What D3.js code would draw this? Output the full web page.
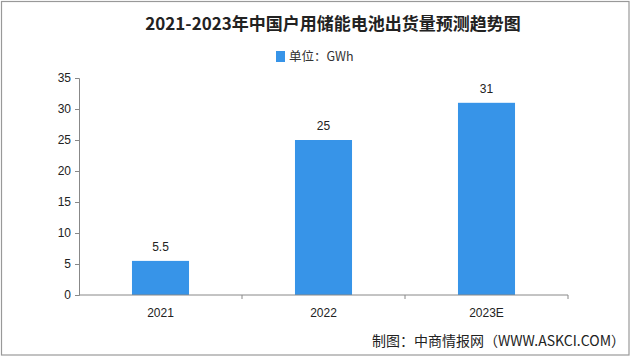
<!DOCTYPE html>
<html><head><meta charset="utf-8">
<script src="https://cdn.jsdelivr.net/npm/d3@7"></script>
<style>html,body{margin:0;padding:0;background:#fff;}svg{display:block;}</style>
</head><body>
<svg id="c" width="640" height="358"></svg>
<script>
const categories = ["2021", "2022", "2023E"];
const values = [5.5, 25, 31];
const valueLabels = ["5.5", "25", "31"];
const yTicks = [0, 5, 10, 15, 20, 25, 30, 35];
const titleText = "2021-2023年中国户用储能电池出货量预测趋势图";
const legendText = "单位：GWh";
const sourceText = "制图：中商情报网（WWW.ASKCI.COM）";

const svg = d3.select("#c");
const font = "'Noto Sans CJK SC', 'Noto Sans', sans-serif";
const barColor = "#3794e8";
const axisColor = "#888";

svg.append("rect").attr("x", 1.5).attr("y", 1.5).attr("width", 627.5).attr("height", 353.5)
  .attr("fill", "#fff").attr("stroke", "#999").attr("stroke-width", 1.2);

const m = {left: 79, right: 568, top: 78, bottom: 295};
const x = d3.scaleBand().domain(categories).range([m.left, m.right]).paddingInner(0.65).paddingOuter(0.325);
const y = d3.scaleLinear().domain([0, 35]).range([m.bottom, m.top]);

// title
svg.append("text").attr("x", 333).attr("y", 30).attr("text-anchor", "middle")
  .attr("font-family", font).attr("font-weight", "bold").attr("font-size", 17).attr("fill", "#222")
  .text(titleText);

// legend
svg.append("rect").attr("x", 276).attr("y", 51).attr("width", 9).attr("height", 11).attr("fill", barColor);
svg.append("text").attr("x", 289).attr("y", 61).attr("font-family", font).attr("font-size", 12.5).attr("fill", "#333")
  .text(legendText);

// y axis
const yAxis = svg.append("g").attr("transform", `translate(${m.left},0)`)
  .call(d3.axisLeft(y).tickValues(yTicks).tickSize(4).tickPadding(4).tickFormat(d3.format("d")));
yAxis.select(".domain").attr("stroke", axisColor);
yAxis.selectAll(".tick line").attr("stroke", axisColor);
yAxis.selectAll("text").attr("font-family", "'Liberation Sans', Arial, sans-serif").attr("font-size", 12).attr("fill", "#222");

// bars
svg.append("g").selectAll("rect").data(values).join("rect")
  .attr("x", (d, i) => x(categories[i])).attr("width", x.bandwidth())
  .attr("y", d => y(d)).attr("height", d => y(0) - y(d)).attr("fill", barColor);

// value labels
svg.append("g").selectAll("text").data(values).join("text")
  .attr("x", (d, i) => x(categories[i]) + x.bandwidth() / 2)
  .attr("y", d => y(d) - 10).attr("text-anchor", "middle")
  .attr("font-family", "'Liberation Sans', Arial, sans-serif").attr("font-size", 12).attr("fill", "#222")
  .text((d, i) => valueLabels[i]);

// x axis
const xg = svg.append("g").attr("transform", `translate(0,${m.bottom})`);
xg.append("line").attr("x1", m.left).attr("x2", m.right).attr("stroke", axisColor);
const bounds = d3.range(categories.length + 1).map(i => m.left + i * (m.right - m.left) / categories.length);
xg.selectAll("line.t").data(bounds.slice(1)).join("line").attr("class", "t")
  .attr("x1", d => d).attr("x2", d => d).attr("y1", 0).attr("y2", 4).attr("stroke", axisColor);
xg.selectAll("text").data(categories).join("text")
  .attr("x", d => x(d) + x.bandwidth() / 2).attr("y", 22).attr("text-anchor", "middle")
  .attr("font-family", "'Liberation Sans', Arial, sans-serif").attr("font-size", 12).attr("fill", "#222")
  .text(d => d);

// source
svg.append("text").attr("x", 625).attr("y", 346).attr("text-anchor", "end")
  .attr("font-family", font).attr("font-size", 14).attr("fill", "#222")
  .text(sourceText);
</script>
</body></html>
